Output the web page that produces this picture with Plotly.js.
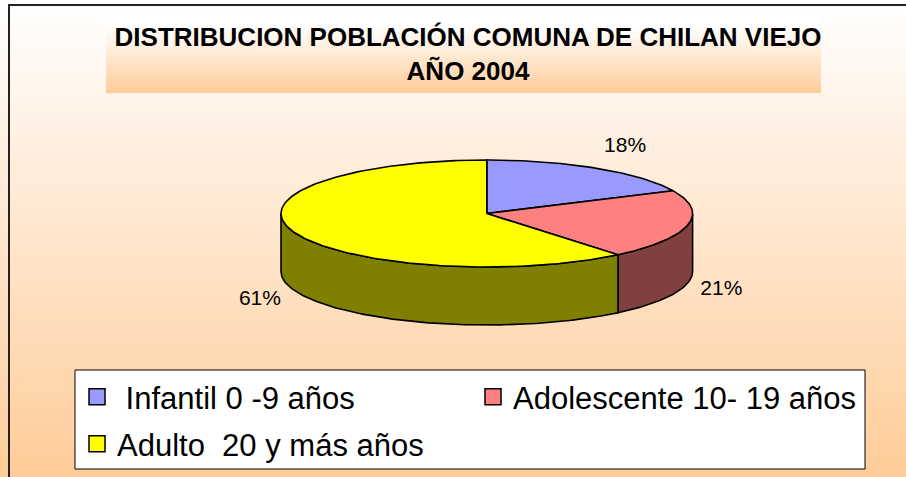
<!DOCTYPE html>
<html><head><meta charset="utf-8">
<script src="https://cdn.plot.ly/plotly-3.0.1.min.js"></script>
<style>
html,body{margin:0;padding:0;background:#fff;}
#wrap{position:relative;width:906px;height:477px;background:linear-gradient(to bottom,#FFFFFF 0%,#FFCC99 100%);overflow:hidden;}
#titlebox{position:absolute;left:106px;top:15px;width:715px;height:78px;background:linear-gradient(to bottom,#FFFFFF 0%,#FFFFFF 15%,#FFCC99 100%);}
#chart{position:absolute;left:0;top:0;width:906px;height:477px;}
</style></head><body>
<div id="wrap"><div id="titlebox"></div><div id="chart"></div></div>
<script>
// ---- data ----
const categories = [' Infantil 0 -9 años', 'Adolescente 10- 19 años', 'Adulto  20 y más años'];
const values = [18, 21, 61];
const topColors = ['#9999FF', '#FF8080', '#FFFF00'];
const sideColors = ['#4D4D80', '#804040', '#808000'];
const titleLines = ['DISTRIBUCION POBLACIÓN COMUNA DE CHILAN VIEJO', 'AÑO 2004'];

// ---- geometry (pixel space) ----
const cx = 486.8, cy = 213.5, rx = 205.8, ry = 53.5, depth = 58;
const total = values.reduce((a, b) => a + b, 0);
const rad = d => d * Math.PI / 180;
const px = t => cx + rx * Math.sin(rad(t));
const py = (t, dz) => cy - ry * Math.cos(rad(t)) + (dz || 0);

function arc(t1, t2, dz) {
  const xs = [], ys = [];
  const n = Math.max(2, Math.ceil(Math.abs(t2 - t1)));
  for (let i = 0; i <= n; i++) {
    const t = t1 + (t2 - t1) * i / n;
    xs.push(px(t)); ys.push(py(t, dz));
  }
  return [xs, ys];
}

const slices = [];
let acc = 0;
values.forEach((v, i) => {
  const t1 = acc / total * 360;
  acc += v;
  const t2 = acc / total * 360;
  slices.push({t1, t2, i});
});

const traces = [];
// sides (visible front half: 90..270)
slices.forEach(s => {
  const a = Math.max(s.t1, 90), b = Math.min(s.t2, 270);
  if (a < b) {
    const [x1, y1] = arc(a, b, 0);
    const [x2, y2] = arc(b, a, depth);
    traces.push({
      type: 'scatter', mode: 'lines', x: x1.concat(x2, [x1[0]]), y: y1.concat(y2, [y1[0]]),
      fill: 'toself', fillcolor: sideColors[s.i], line: {color: '#000', width: 1.6},
      hoverinfo: 'skip', showlegend: false
    });
  }
});
// tops
slices.forEach(s => {
  const [xa, ya] = arc(s.t1, s.t2, 0);
  traces.push({
    type: 'scatter', mode: 'lines', x: [cx].concat(xa, [cx]), y: [cy].concat(ya, [cy]),
    fill: 'toself', fillcolor: topColors[s.i], line: {color: '#000', width: 1.6},
    hoverinfo: 'skip', showlegend: false
  });
});
// percent labels (near edge at slice mid-angle, outside the ellipse)
const lx = [], ly = [], lt = [], lp = [];
slices.forEach(s => {
  const m = (s.t1 + s.t2) / 2;
  const c = Math.cos(rad(m)), sn = Math.sin(rad(m));
  lx.push(cx + (rx + 13) * sn);
  ly.push(cy - (ry + 25.5) * c + (c < 0 ? depth + 1 : 0));
  lt.push(Math.round(values[s.i] / total * 100) + '%');
  lp.push(sn >= 0 ? 'middle right' : 'middle left');
});
traces.push({
  type: 'scatter', mode: 'text', x: lx, y: ly, text: lt, textposition: lp,
  textfont: {family: 'Liberation Sans, Arial, sans-serif', size: 21, color: '#000'},
  hoverinfo: 'skip', showlegend: false
});
// legend entries
categories.forEach((c, i) => {
  traces.push({
    type: 'scatter', mode: 'markers', x: [null], y: [null],
    name: c.replace(/ /g, '\u00A0'),
    marker: {symbol: 'square', size: 18, color: topColors[i], line: {color: '#000', width: 1.5}},
    legend: i < 2 ? 'legend' : 'legend2', hoverinfo: 'skip'
  });
});

const W = 906, H = 477;
const legendFont = {family: 'Liberation Sans, Arial, sans-serif', size: 31, color: '#000'};
const layout = {
  width: W, height: H,
  margin: {l: 0, r: 0, t: 0, b: 0, pad: 0},
  paper_bgcolor: 'rgba(0,0,0,0)', plot_bgcolor: 'rgba(0,0,0,0)',
  xaxis: {range: [0, W], visible: false, fixedrange: true},
  yaxis: {range: [H, 0], visible: false, fixedrange: true},
  title: {
    text: '<b>' + titleLines.join('<br>') + '</b>',
    x: 468 / W, xanchor: 'center', y: 1 - 46 / H, yanchor: 'middle', yref: 'paper',
    font: {family: 'Liberation Sans, Arial, sans-serif', size: 26, color: '#000'}
  },
  showlegend: true,
  legend: {
    x: 77 / W, xanchor: 'left', y: 1 - 370 / H, yanchor: 'top', orientation: 'h',
    bgcolor: 'rgba(0,0,0,0)', borderwidth: 0, font: legendFont,
    entrywidth: 351, entrywidthmode: 'pixels', itemsizing: 'trace'
  },
  legend2: {
    x: 77 / W, xanchor: 'left', y: 1 - 417 / H, yanchor: 'top', orientation: 'h',
    bgcolor: 'rgba(0,0,0,0)', borderwidth: 0, font: legendFont, itemsizing: 'trace'
  },
  shapes: [
    {type: 'rect', xref: 'x', yref: 'y', x0: 75, x1: 865, y0: 370, y1: 469,
     fillcolor: '#FFFFFF', line: {color: '#000', width: 1}, layer: 'below'},
    {type: 'line', xref: 'x', yref: 'y', x0: 8, x1: W, y0: 5, y1: 5, line: {color: '#222', width: 2}},
    {type: 'line', xref: 'x', yref: 'y', x0: 9, x1: 9, y0: 4, y1: H, line: {color: '#222', width: 2}}
  ]
};
Plotly.newPlot('chart', traces, layout, {staticPlot: true, displayModeBar: false});
</script>
</body></html>
